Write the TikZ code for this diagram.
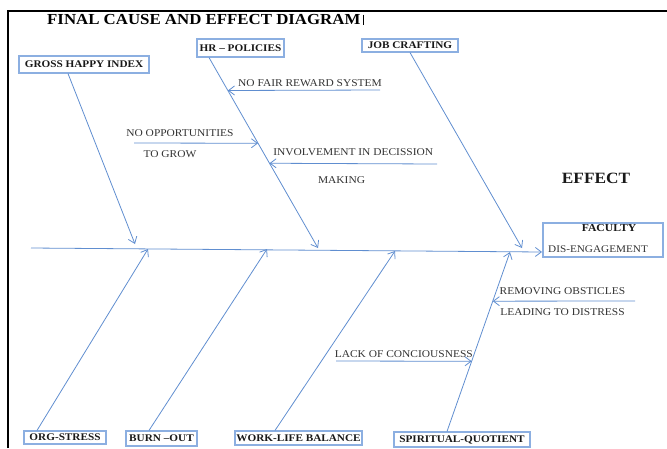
\documentclass[tikz,border=0pt]{standalone}
\usepackage{fontspec}
\setmainfont{Liberation Serif}[FakeStretch=1.1]
\usetikzlibrary{arrows.meta, positioning}
\definecolor{boneblue}{RGB}{96,142,208}
\definecolor{boxblue}{RGB}{140,175,225}
\tikzset{>={Straight Barb[length=6pt,width=9pt]},
causebox/.style={draw=boxblue, line width=1.1pt, inner sep=0pt, text=black!90,
  font=\fontsize{10.2}{12}\selectfont\bfseries},
bone/.style={->, draw=boneblue, line width=0.8pt},
sublabel/.style={font=\fontsize{10.4}{12}\selectfont, text=black!80}}

\begin{document}
\begin{tikzpicture}[x=1pt,y=-1pt]
\useasboundingbox (0,0) rectangle (667,448);
\draw[line width=2.5pt] (8,448) -- (8,11) -- (667,11);
\node[font=\fontsize{15.3}{18}\selectfont\bfseries, anchor=west, inner sep=0pt] (title) at (47,20) {FINAL CAUSE AND EFFECT DIAGRAM};
\draw[line width=0.5pt] ([xshift=3pt]title.north east) -- ([xshift=3pt]title.south east);

% causes
\node[causebox, minimum width=130pt, minimum height=17pt] (ghi) at (84,64.5) {GROSS HAPPY INDEX};
\node[causebox, minimum width=87pt, minimum height=18pt] (hr) at (240.5,48) {HR -- POLICIES};
\node[causebox, minimum width=96pt, minimum height=13pt] (job) at (410,45.5) {JOB CRAFTING};
\node[causebox, minimum width=82pt, minimum height=13pt] (org) at (65,437.5) {ORG-STRESS};
\node[causebox, minimum width=71pt, minimum height=15pt] (burn) at (161.5,438.5) {BURN --OUT};
\node[causebox, minimum width=127pt, minimum height=14pt] (wlb) at (298.5,438) {WORK-LIFE BALANCE};
\node[causebox, minimum width=136pt, minimum height=15pt] (spq) at (462,439.5) {SPIRITUAL-QUOTIENT};

% effect
\node[font=\fontsize{15.7}{18}\selectfont\bfseries, text=black!90] (eff) at (596,178) {EFFECT};
\node[causebox, minimum width=120pt, minimum height=34pt] (fac) at (603,240) {};
\node[font=\fontsize{10.6}{12}\selectfont\bfseries, text=black!90] (fac-t) at (609,228) {FACULTY};
\node[sublabel, font=\fontsize{10.2}{12}\selectfont, anchor=west, inner sep=0pt] (fac-b) at (548,249) {DIS-ENGAGEMENT};

% spine
\coordinate (spl) at (31,248);
\coordinate (spr) at (542,252);
\draw[bone] (spl) -- (spr);

% bones
\coordinate (t-ghi) at (135,244);
\coordinate (t-hr) at (318,248);
\coordinate (t-job) at (522,248);
\coordinate (t-org) at (148,249);
\coordinate (t-burn) at (267,249);
\coordinate (t-wlb) at (395,251);
\coordinate (t-spq) at (510,252);
\draw[bone] ([xshift=-16pt]ghi.south) -- (t-ghi);
\draw[bone] ([xshift=-31.5pt]hr.south) -- coordinate[pos=0.173] (c-fair)
  coordinate[pos=0.45] (c-opp) coordinate[pos=0.555] (c-inv) (t-hr);
\draw[bone] (job.south) -- (t-job);
\draw[bone] ([xshift=-28pt]org.north) -- (t-org);
\draw[bone] ([xshift=-12.5pt]burn.north) -- (t-burn);
\draw[bone] ([xshift=-23.5pt]wlb.north) -- (t-wlb);
\draw[bone] ([xshift=-15pt]spq.north) -- coordinate[pos=0.391] (c-lack)
  coordinate[pos=0.726] (c-rem) (t-spq);

% sub causes
\coordinate (fair-r) at (380,90);
\coordinate (opp-l) at (134,143);
\coordinate (inv-r) at (437,164);
\coordinate (rem-r) at (635,301);
\coordinate (lack-l) at (336,361);
\draw[bone] (fair-r) -- node[sublabel, above, pos=0.46] {NO FAIR REWARD SYSTEM} (c-fair);
\draw[bone] (opp-l) -- node[sublabel, above=3pt, pos=0.37] {NO OPPORTUNITIES}
  node[sublabel, below=4pt, pos=0.29] {TO GROW} (c-opp);
\draw[bone] (inv-r) -- node[sublabel, above=4pt, pos=0.5] {INVOLVEMENT IN DECISSION}
  node[sublabel, below=9pt, pos=0.57] {MAKING} (c-inv);
\draw[bone] (rem-r) -- node[sublabel, above=3pt, pos=0.51] {REMOVING OBSTICLES}
  node[sublabel, below=4pt, pos=0.51] {LEADING TO DISTRESS} (c-rem);
\draw[bone] (lack-l) -- node[sublabel, above, pos=0.5] {LACK OF CONCIOUSNESS} (c-lack);
\end{tikzpicture}
\end{document}
